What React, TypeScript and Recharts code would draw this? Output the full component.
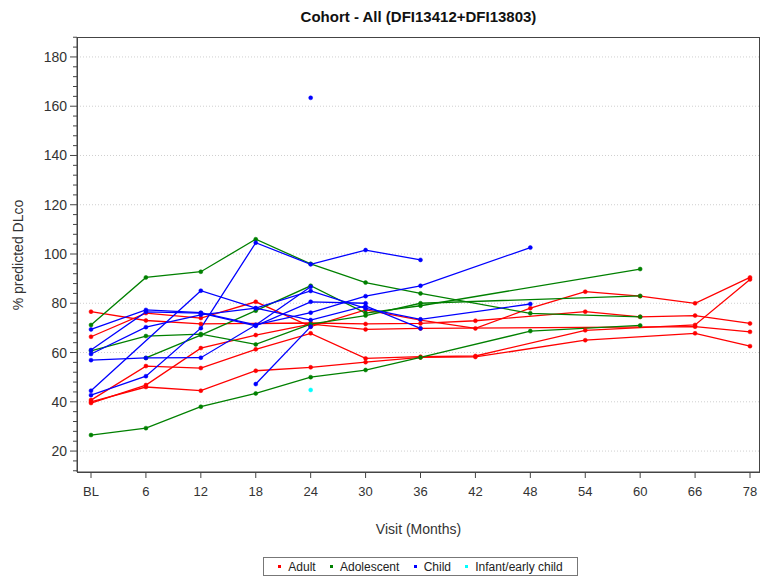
import React from 'react';
import { LineChart, Line, XAxis, YAxis, ReferenceLine } from 'recharts';

const visits = ['BL', '6', '12', '18', '24', '30', '36', '42', '48', '54', '60', '66', '78'];
const yMajorTicks = [20, 40, 60, 80, 100, 120, 140, 160, 180];

const n = null;

// Adult
const adult1 = [76.6, 73, 71.6, n, 72, 71.6, 71.8, 72.9, n, 76.6, 74.5, 75, 71.8];
const adult2 = [66.4, 76, 74, 80.6, 70.5, 77.3, 73.2, 69.8, 78, 84.7, 82.9, 80, 90.5];
const adult3 = [40.7, 54.5, 53.7, 61.3, 67.8, 57.6, 58.3, 58.6, n, 69, n, 71.2, 89.7];
const adult4 = [39.5, 46.8, 61.8, 67.1, 71.5, 69.4, 69.8, n, n, n, n, 70.5, 68.4];
const adult5 = [40, 46, 44.5, 52.6, 54, 56.1, 58, 58.2, n, 65, n, 67.8, 62.6];

// Adolescent
const adol1 = [26.5, 29.3, 38, 43.4, 50, 52.9, 58, n, 68.7, n, 71, n, n];
const adol2 = [71.2, 90.5, 92.8, 106, 96, 88.4, 84, n, 75.9, n, 74.5, n, n];
const adol3 = [60.7, 66.7, 67.5, 63.3, 71.5, 75, 80, n, n, n, 83, n, n];
const adol4 = [n, 57.8, 67.1, 77, 87.1, 76, 79, n, n, n, 93.9, n, n];

// Child
const child1 = [69.4, 77.3, 76.2, 71.2, 76.2, 82.9, 87.1, n, 102.6, n, n, n, n];
const child2 = [59.4, 70.3, 75.3, 78, 85, 77.9, 73.5, n, 79.7, n, n, n, n];
const child3 = [44.5, n, 85.1, 78, 73.2, 78.9, 69.8, n, n, n, n, n, n];
const child4 = [42.7, 50.4, 69.9, 104.6, 95.8, 101.6, 97.6, n, n, n, n, n, n];
const child5 = [56.9, 57.8, 57.9, 71.2, 86.7, n, n, n, n, n, n, n, n];
const child6 = [61, 76.5, 76, 70.8, 80.6, 80, n, n, n, n, n, n, n];
const child7 = [n, n, n, 47.2, 70.5, n, n, n, n, n, n, n, n];
const child8 = [n, n, n, n, 163.4, n, n, n, n, n, n, n, n];

// Infant/early child
const infant1 = [n, n, n, n, 44.8, n, n, n, n, n, n, n, n];

const groups = [
  { name: 'Adult', color: '#ff0000', series: [adult1, adult2, adult3, adult4, adult5] },
  { name: 'Adolescent', color: '#008000', series: [adol1, adol2, adol3, adol4] },
  { name: 'Child', color: '#0000ff', series: [child1, child2, child3, child4, child5, child6, child7, child8] },
  { name: 'Infant/early child', color: '#00ffff', series: [infant1] },
];

const lines: { key: string; color: string }[] = [];
groups.forEach((g, gi) => g.series.forEach((_, si) => lines.push({ key: `g${gi}s${si}`, color: g.color })));

const data = visits.map((v, i) => {
  const row: Record<string, any> = { visit: v };
  groups.forEach((g, gi) => g.series.forEach((s, si) => { row[`g${gi}s${si}`] = s[i]; }));
  return row;
});

const yTicks: number[] = [];
for (let t = 12; t <= 188; t += 4) yTicks.push(t);

const font = '"Liberation Sans", Arial, sans-serif';

const YTick = (props: any) => {
  const { x, y, payload } = props;
  const major = payload.value % 20 === 0;
  return (
    <g>
      <line x1={x} x2={x - (major ? 7 : 4)} y1={y} y2={y} stroke="#444" strokeWidth={1} />
      {major && (
        <text x={x - 10} y={y} textAnchor="end" dominantBaseline="central" fontSize={14} fill="#333" fontFamily={font}>
          {payload.value}
        </text>
      )}
    </g>
  );
};

const App: React.FC = () => {
  return (
    <div style={{ position: 'absolute', left: 0, top: 0, width: 760, height: 580, background: '#fff', fontFamily: font }}>
      <div style={{ position: 'absolute', left: 77, width: 683, top: 8, textAlign: 'center', fontSize: 15, fontWeight: 'bold', color: '#111' }}>
        Cohort - All (DFI13412+DFI13803)
      </div>
      <div style={{ position: 'absolute', left: 18, top: 255, transform: 'translate(-50%, -50%) rotate(-90deg)', whiteSpace: 'nowrap', fontSize: 14, color: '#333' }}>
        % predicted DLco
      </div>
      <div style={{ position: 'absolute', left: 77, width: 683, top: 521, textAlign: 'center', fontSize: 14, color: '#333' }}>
        Visit (Months)
      </div>
      <LineChart width={760} height={580} data={data} margin={{ top: 37, right: 1, bottom: 78, left: 27 }}>
        {yMajorTicks.map(t => (
          <ReferenceLine key={t} y={t} stroke="#cfcfcf" strokeDasharray="1 2" />
        ))}
        <XAxis
          dataKey="visit"
          height={30}
          padding={{ left: 14, right: 9 }}
          stroke="#444"
          tickSize={6}
          tickMargin={9}
          tick={{ fontSize: 13, fill: '#333', fontFamily: font }}
        />
        <YAxis
          type="number"
          domain={[11.5, 188.1]}
          ticks={yTicks}
          interval={0}
          width={50}
          stroke="#444"
          tickLine={false}
          tickSize={0}
          tickMargin={0}
          tick={<YTick />}
          allowDataOverflow
        />
        {lines.map(l => (
          <Line
            key={l.key}
            dataKey={l.key}
            stroke={l.color}
            strokeWidth={1.3}
            dot={{ r: 2, fill: l.color, stroke: l.color, strokeWidth: 0.5 }}
            connectNulls
            isAnimationActive={false}
          />
        ))}
      </LineChart>
      <div style={{ position: 'absolute', left: 77, top: 37, width: 683, height: 436, border: '1px solid #444', boxSizing: 'border-box', pointerEvents: 'none' }} />
      <div style={{ position: 'absolute', left: 263, top: 557, width: 315, height: 19, border: '1px solid #777', display: 'flex', alignItems: 'center', justifyContent: 'space-evenly', fontSize: 12, color: '#222', boxSizing: 'border-box' }}>
        {groups.map(g => (
          <span key={g.name} style={{ display: 'flex', alignItems: 'center' }}>
            <span style={{ display: 'inline-block', width: 3, height: 3, background: g.color, marginRight: 7 }} />
            {g.name}
          </span>
        ))}
      </div>
    </div>
  );
};

export default App;
